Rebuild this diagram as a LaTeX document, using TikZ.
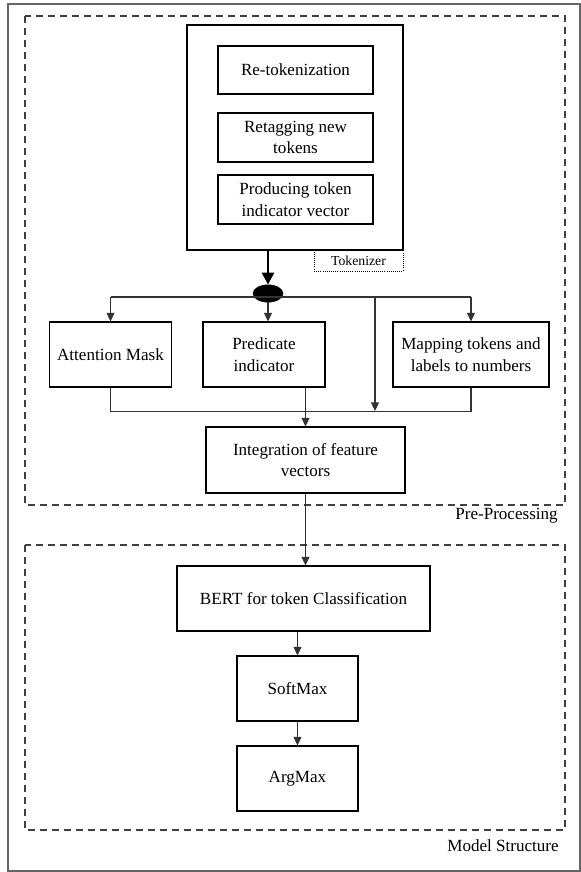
\documentclass[tikz,border=0pt]{standalone}
\usepackage{fontspec}
\setmainfont{Liberation Serif}
\usetikzlibrary{arrows.meta,shapes.geometric}
\begin{document}
\begin{tikzpicture}[x=0.75pt,y=-0.75pt,
  every node/.style={font=\fontsize{12.8}{16.2}\selectfont},
  box/.style={draw=black,line width=0.8pt,align=center,inner sep=2pt},
  conn/.style={draw=black!80,line width=0.8pt},
  arr/.style={conn,-{Triangle[length=6.5pt,width=6pt]}},
  bigarr/.style={draw=black,line width=2pt,-{Triangle[length=9pt,width=9pt]}},
  grp/.style={draw=black!75,line width=0.8pt,dash pattern=on 5.5pt off 3.5pt},
  lab/.style={anchor=east,inner sep=0pt}]
\useasboundingbox (0,0) rectangle (581,872);
% outer frame
\draw[draw=black!60,line width=0.9pt] (8,4) rectangle (580,871);
% groups
\draw[grp] (25,16) rectangle (565,505);
\draw[grp] (25,545) rectangle (565,830);
\node[lab] (pplab) at (558,516) {Pre-Processing};
\node[lab] (mslab) at (559,846) {Model Structure};
% tokenizer
\node[box,minimum width=162pt,minimum height=168.75pt] (tok) at (295,137.5) {};
\node[box,minimum width=116.25pt,minimum height=36pt] (retok) at (295.5,70) {Re-tokenization};
\node[box,minimum width=116.25pt,minimum height=36.75pt] (retag) at (295.5,137.5) {Retagging new\\tokens};
\node[box,minimum width=116.25pt,minimum height=36.75pt] (prod) at (295.5,199.5) {Producing token\\indicator vector};
\node[draw=black,densely dotted,line width=0.6pt,minimum width=66.75pt,minimum height=15.75pt,inner sep=0pt,font=\fontsize{10.3}{12}\selectfont] (toklab) at (358.5,260.5) {Tokenizer};
% junction
\node[ellipse,fill=black,draw=black,minimum width=22.5pt,minimum height=13pt,inner sep=0pt] (ell) at (268,293.5) {};
\draw[bigarr] (ell |- tok.south) -- (ell.north);
% feature boxes
\node[box,minimum width=91.5pt,minimum height=48.75pt] (att) at (110.5,354.5) {Attention Mask};
\node[box,minimum width=91.5pt,minimum height=48.75pt] (pred) at (264,354.5) {Predicate\\indicator};
\node[box,minimum width=117pt,minimum height=48.75pt] (map) at (471,354.5) {Mapping tokens and\\labels to numbers};
\node[box,minimum width=149.25pt,minimum height=49.5pt] (integ) at (305.5,460) {Integration of feature\\vectors};
% branching
\coordinate (hl) at (110.5,297);
\coordinate (hr) at (471,297);
\coordinate (vt) at (375,297);
\coordinate (vb) at (375,411);
\draw[conn] (hl) -- (hr);
\draw[arr] (hl) -- (att.north);
\draw[arr] (ell) -- (ell |- pred.north);
\draw[arr] (hr) -- (map.north);
\draw[arr] (vt) -- (vb);
\draw[conn] (att.south) -- ++(0,24) -| (map.south);
\draw[arr] (integ.north |- pred.south) -- (integ.north);
% model structure
\node[box,minimum width=189.75pt,minimum height=48.75pt] (bert) at (303.5,598.5) {BERT for token Classification};
\node[box,minimum width=90.75pt,minimum height=48.75pt] (soft) at (297.5,688.5) {SoftMax};
\node[box,minimum width=90.75pt,minimum height=48.75pt] (argm) at (297.5,778.5) {ArgMax};
\draw[arr] (integ.south) -- (integ.south |- bert.north);
\draw[arr] (soft.north |- bert.south) -- (soft.north);
\draw[arr] (soft.south) -- (argm.north);
\end{tikzpicture}
\end{document}
